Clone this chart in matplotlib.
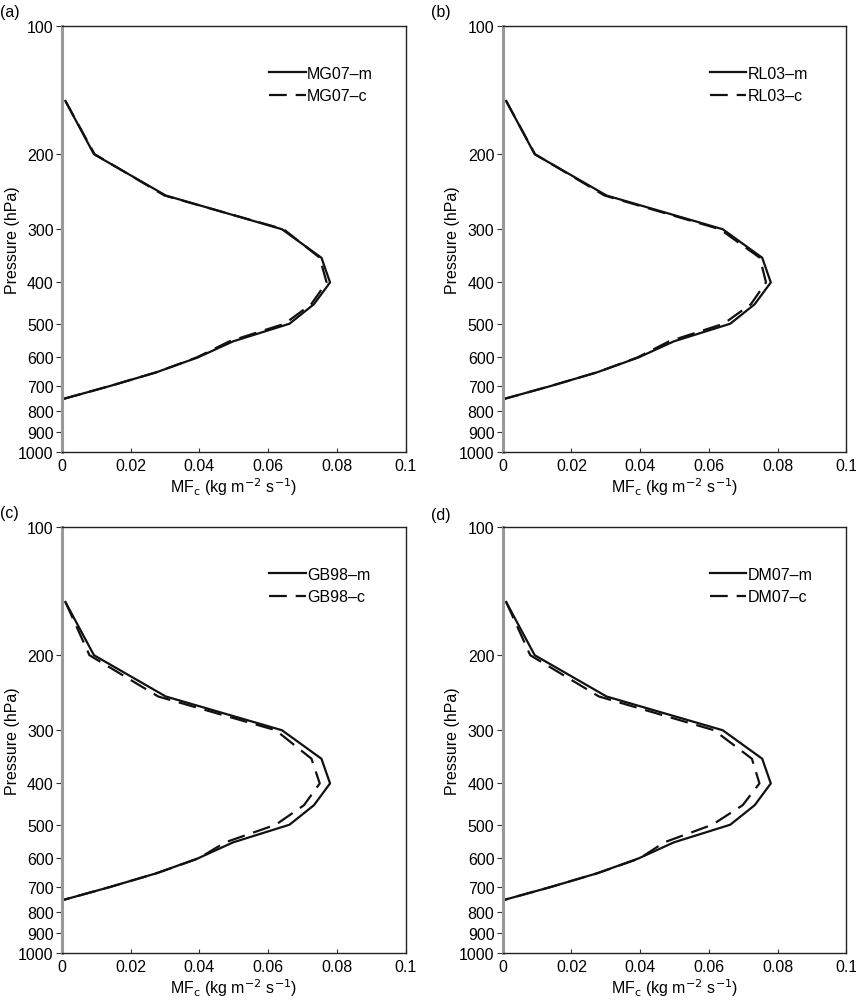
import numpy as np
import matplotlib
matplotlib.use("Agg")
from matplotlib import pyplot as plt

plt.rcParams['font.family'] = ['Liberation Sans', 'DejaVu Sans']

# pressure levels (hPa)
pres = [150, 200, 250, 300, 350, 400, 450, 500, 550, 600, 650, 700, 750]

# model (solid) profile, same in every panel
mf_m = [0.001, 0.0093, 0.0302, 0.0640, 0.0755, 0.0780, 0.0733, 0.0662, 0.0498, 0.0395, 0.0275, 0.0140, 0.0006]

# parameterisation (dashed) profiles
mf_mg07 = [0.001, 0.0095, 0.0298, 0.0645, 0.0750, 0.0770, 0.0725, 0.0648, 0.0487, 0.0392, 0.0275, 0.0140, 0.0006]
mf_rl03 = [0.001, 0.0094, 0.0296, 0.0632, 0.0748, 0.0766, 0.0722, 0.0643, 0.0484, 0.0392, 0.0275, 0.0140, 0.0006]
mf_gb98 = [0.001, 0.0080, 0.0280, 0.0622, 0.0726, 0.0750, 0.0704, 0.0622, 0.0475, 0.0397, 0.0275, 0.0140, 0.0006]
mf_dm07 = [0.001, 0.0080, 0.0280, 0.0615, 0.0725, 0.0747, 0.0698, 0.0610, 0.0470, 0.0398, 0.0275, 0.0140, 0.0006]

names = ['MG07', 'RL03', 'GB98', 'DM07']
panels = ['(a)', '(b)', '(c)', '(d)']
dashed = [mf_mg07, mf_rl03, mf_gb98, mf_dm07]

yticks = [100, 200, 300, 400, 500, 600, 700, 800, 900, 1000]
xticks = [0, 0.02, 0.04, 0.06, 0.08, 0.1]
xticklabels = ['0', '0.02', '0.04', '0.06', '0.08', '0.1']

fs = 11.5

fig = plt.figure(figsize=(8.56, 10.03), dpi=100)

# axes boxes in figure fractions
boxes = [(0.0724, 0.5484), (0.5873, 0.5484), (0.0724, 0.0489), (0.5873, 0.0489)]
w, h = 0.4015, 0.4247
lab_pos = [(0.0, 0.995), (0.503, 0.995), (0.0, 0.496), (0.503, 0.494)]

for i in range(4):
    ax = fig.add_axes([boxes[i][0], boxes[i][1], w, h])
    ax.plot(mf_m, pres, color='#111111', lw=1.6, label=names[i] + '\u2013m')
    ax.plot(dashed[i], pres, color='#111111', lw=1.6, dashes=(8, 4), label=names[i] + '\u2013c')
    ax.set_yscale('log')
    ax.set_ylim(1000, 100)
    ax.set_xlim(0, 0.1)
    ax.set_yticks(yticks)
    ax.set_yticklabels([str(t) for t in yticks])
    ax.minorticks_off()
    ax.set_xticks(xticks)
    ax.set_xticklabels(xticklabels)
    ax.tick_params(axis='y', direction='out', length=4, labelsize=fs, color='#333333', pad=2)
    ax.tick_params(axis='x', direction='in', length=3, labelsize=fs, color='#333333', pad=4)
    ax.spines['left'].set_color('#999999')
    ax.spines['left'].set_linewidth(2.2)
    for s in ['top', 'right', 'bottom']:
        ax.spines[s].set_color('#222222')
        ax.spines[s].set_linewidth(1.0)
    ax.set_ylabel('Pressure (hPa)', fontsize=fs, labelpad=-1)
    ax.set_xlabel('MF$_{\\mathrm{c}}$ (kg m$^{-2}$ s$^{-1}$)', fontsize=fs, labelpad=2)
    ax.legend(loc='upper left', bbox_to_anchor=(0.56, 0.94), frameon=False,
              fontsize=fs, handlelength=2.3, handletextpad=0.1, labelspacing=0.45)
    fig.text(lab_pos[i][0], lab_pos[i][1], panels[i], fontsize=fs, va='top', ha='left')

fig.savefig('out.png', dpi=100)
